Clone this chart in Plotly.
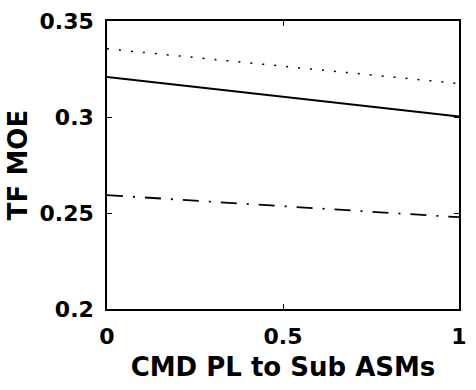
import plotly.graph_objects as go

x_vals = [0, 1]
dotted_vals = [0.3355, 0.3174]
solid_vals = [0.3208, 0.3003]
dashdot_vals = [0.2593, 0.2478]
x_ticks = [0, 0.5, 1]
x_tick_labels = ["0", "0.5", "1"]
y_ticks = [0.2, 0.25, 0.3, 0.35]
y_tick_labels = ["0.2", "0.25", "0.3", "0.35"]

FAM = "DejaVu Sans"

fig = go.Figure()
fig.add_trace(go.Scatter(x=x_vals, y=dotted_vals, mode="lines",
                         line=dict(color="black", width=1.5, dash="2px,10px")))
fig.add_trace(go.Scatter(x=x_vals, y=solid_vals, mode="lines",
                         line=dict(color="black", width=2)))
fig.add_trace(go.Scatter(x=x_vals, y=dashdot_vals, mode="lines",
                         line=dict(color="black", width=1.8, dash="16px,10px,2px,10px")))

fig.update_layout(
    width=476, height=390,
    margin=dict(l=107, r=9, t=19, b=81),
    paper_bgcolor="white", plot_bgcolor="white",
    showlegend=False,
    font=dict(family=FAM, size=22, color="black"),
)
fig.update_xaxes(range=[0, 1], tickvals=x_ticks,
                 ticktext=["<b>%s</b>" % t for t in x_tick_labels],
                 showgrid=False, zeroline=False, showline=True, linecolor="black",
                 linewidth=1.5, mirror="ticks", ticks="inside", ticklen=5,
                 tickcolor="black", ticklabelstandoff=7,
                 tickfont=dict(family=FAM, size=22, color="black"),
                 title=dict(text="<b>CMD PL to Sub ASMs</b>", standoff=10,
                            font=dict(family=FAM, size=26, color="black")))
fig.update_yaxes(range=[0.2, 0.35], tickvals=y_ticks,
                 ticktext=["<b>%s</b>" % t for t in y_tick_labels],
                 showgrid=False, zeroline=False, showline=True, linecolor="black",
                 linewidth=1.5, mirror="ticks", ticks="inside", ticklen=5,
                 tickcolor="black", ticklabelstandoff=7,
                 tickfont=dict(family=FAM, size=22, color="black"),
                 title=dict(text="<b>TF MOE</b>", standoff=4,
                            font=dict(family=FAM, size=26, color="black")))

fig.write_html("out.html")
